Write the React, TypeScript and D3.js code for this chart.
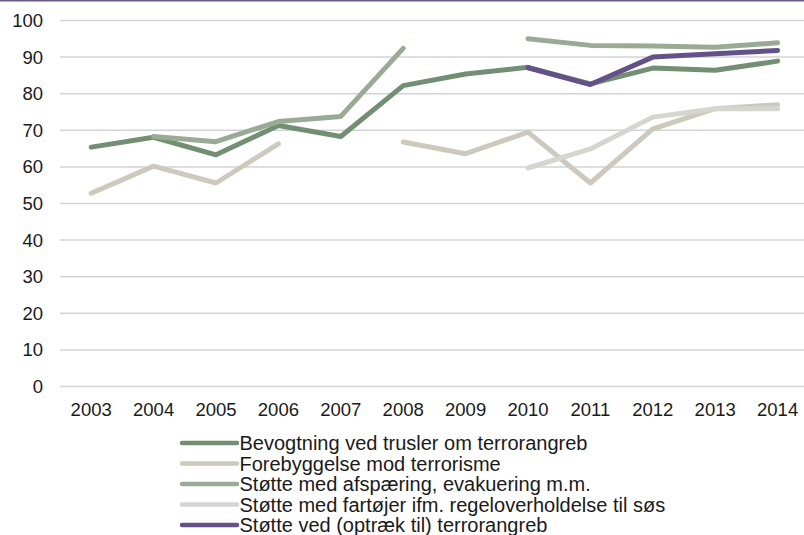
import React from "react";
import * as d3 from "d3";

const years = ["2003","2004","2005","2006","2007","2008","2009","2010","2011","2012","2013","2014"];
const yTicks = [0,10,20,30,40,50,60,70,80,90,100];

const seriesNames = [
  "Bevogtning ved trusler om terrorangreb",
  "Forebyggelse mod terrorisme",
  "Støtte med afspæring, evakuering m.m.",
  "Støtte med fartøjer ifm. regeloverholdelse til søs",
  "Støtte ved (optræk til) terrorangreb",
];

const bevogtning: (number | null)[] = [65.4, 68.1, 63.3, 71.3, 68.3, 82.2, 85.4, 87.2, 82.7, 87.0, 86.4, 88.9];
const forebyggelse: (number | null)[] = [52.8, 60.2, 55.6, 66.3, null, 66.8, 63.6, 69.5, 55.6, 70.4, 75.9, 77.0];
const afspaering: (number | null)[] = [null, 68.3, 66.9, 72.4, 73.8, 92.4, null, 95.0, 93.2, 93.0, 92.7, 93.9];
const fartojer: (number | null)[] = [null, null, null, null, null, null, null, 59.7, 64.9, 73.6, 75.9, 75.9];
const optraek: (number | null)[] = [null, null, null, null, null, null, null, 87.1, 82.5, 90.0, 90.9, 91.8];

const seriesValues = [bevogtning, forebyggelse, afspaering, fartojer, optraek];
const colors = ["#728f73", "#cdc9bd", "#9aab95", "#d4d6cf", "#655189"];

const W = 804, H = 535;
const plotLeft = 60, band = 62.4;
const yTop = 20.5, yBottom = 386.5;

export default function App() {
  const x = d3.scaleBand<string>().domain(years).range([plotLeft, plotLeft + band * years.length]);
  const y = d3.scaleLinear().domain([0, 100]).range([yBottom, yTop]);
  const line = d3.line<number | null>()
    .defined((d) => d !== null)
    .x((_, i) => (x(years[i]) as number) + x.bandwidth() / 2)
    .y((d) => y(d as number));
  const font = "'Liberation Sans', Arial, sans-serif";
  const legendX1 = 182, legendX2 = 237, legendTextX = 239.5, legendY0 = 443, legendDy = 20.5;
  return (
    <div style={{ position: "fixed", left: 0, top: 0, width: W, height: H, overflow: "hidden", background: "#fff" }}>
      <svg width={W} height={H} style={{ display: "block" }}>
        <rect x={0} y={0} width={W} height={H} fill="#fff" />
        <line x1={0} x2={W} y1={0.75} y2={0.75} stroke="#6a5a8c" strokeWidth={1.5} />
        {yTicks.map((t) => (
          <g key={t}>
            <line x1={plotLeft} x2={W} y1={y(t)} y2={y(t)} stroke="#d3d3d3" strokeWidth={1.5} />
            <text x={43} y={y(t)} dy="0.35em" textAnchor="end" fontFamily={font} fontSize={18.5} fill="#1a1a1a">{t}</text>
          </g>
        ))}
        {years.map((yr) => (
          <text key={yr} x={(x(yr) as number) + x.bandwidth() / 2} y={410} dy="0.35em" textAnchor="middle" fontFamily={font} fontSize={18.5} fill="#1a1a1a">{yr}</text>
        ))}
        {seriesValues.map((vals, i) => (
          <path key={i} d={line(vals) || ""} fill="none" stroke={colors[i]} strokeWidth={5} strokeLinecap="round" strokeLinejoin="round" />
        ))}
        {seriesNames.map((name, i) => (
          <g key={name}>
            <line x1={legendX1} x2={legendX2} y1={legendY0 + i * legendDy} y2={legendY0 + i * legendDy} stroke={colors[i]} strokeWidth={4.5} strokeLinecap="round" />
            <text x={legendTextX} y={legendY0 + i * legendDy} dy="0.36em" fontFamily={font} fontSize={20} fill="#1a1a1a">{name}</text>
          </g>
        ))}
      </svg>
    </div>
  );
}
